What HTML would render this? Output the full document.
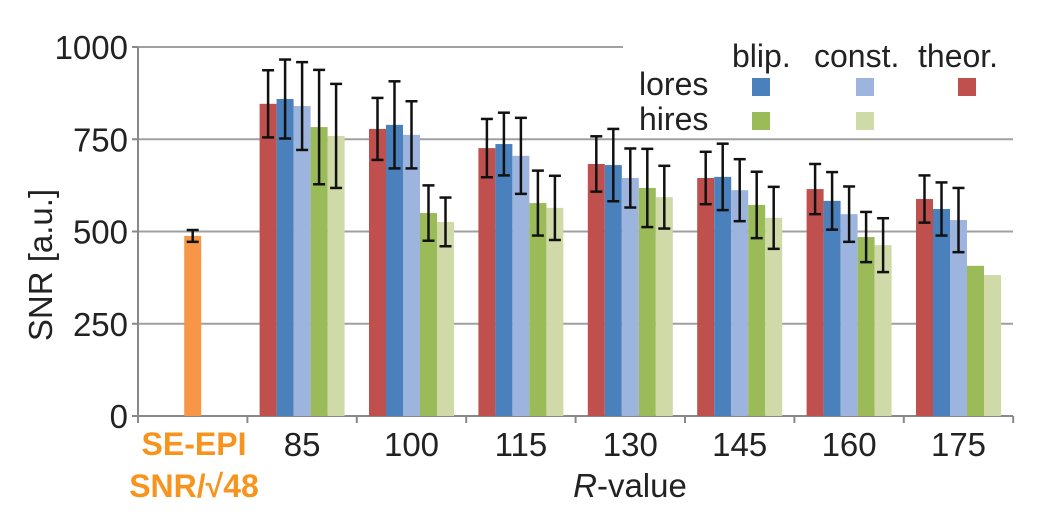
<!DOCTYPE html>
<html><head><meta charset="utf-8"><style>
html,body{margin:0;padding:0;background:#fff;}
svg{display:block;font-family:"Liberation Sans",sans-serif;}
</style></head><body>
<svg id="chart" width="1042" height="523"></svg>
<script>
const categories=["85","100","115","130","145","160","175"];
const seriesNames=["theor","blip-lores","const-lores","blip-hires","const-hires"];
const theor=[846,778,726,683,645,615,588];
const blipLores=[859,789,737,680,648,583,561];
const constLores=[840,762,705,645,612,547,531];
const blipHires=[783,550,577,618,572,485,407];
const constHires=[759,526,564,593,537,463,382];
const errTheor=[91,84,79,75,71,68,64];
const errBlipLores=[107,118,85,98,90,78,72];
const errConstLores=[119,91,103,80,84,75,87];
const errBlipHires=[155,75,88,106,90,68,0];
const errConstHires=[141,66,87,85,84,73,0];
const seEpiValue=[488];
const seEpiErr=[16];
const yTicks=[0,250,500,750,1000];

const NS="http://www.w3.org/2000/svg";
const svg=document.getElementById("chart");
function mk(t,a){const e=document.createElementNS(NS,t);for(const k in a)e.setAttribute(k,a[k]);svg.appendChild(e);return e;}
const x0=138,catW=109.4,y0=416,pxPer=0.369,barW=17;
const y=v=>y0-v*pxPer;
const catX=i=>x0+catW*i;
yTicks.forEach((t,i)=>{
  if(t>0){const g=mk("line",{x1:x0,x2:t===1000?623:1013,y1:y(t),y2:y(t),stroke:"#a0a0a0","stroke-width":2});
  
  }
  const tk=mk("line",{x1:132,x2:x0,y1:y(t),y2:y(t),stroke:"#888","stroke-width":2});
  
  
  const tl=mk("text",{x:128,y:y(t)+12,"text-anchor":"end","font-size":33,fill:"#222"});tl.textContent=t;
  
  
});
const ax=mk("line",{x1:132,x2:1013,y1:y0,y2:y0,stroke:"#888","stroke-width":2});


const yax=mk("line",{x1:x0,x2:x0,y1:y(1000),y2:y0,stroke:"#888","stroke-width":2});


for(let i=0;i<=8;i++){const tk=mk("line",{x1:catX(i),x2:catX(i),y1:y0,y2:y0+7,stroke:"#888","stroke-width":2});
  
  }
const colors=["#c0504d","#4a81bd","#9db5de","#9bbb59","#d0d9a8"];
const vals=[theor,blipLores,constLores,blipHires,constHires];
const errs=[errTheor,errBlipLores,errConstLores,errBlipHires,errConstHires];
function errBar(cx,v,e){
  if(!e)return;
  const g=[mk("line",{x1:cx,x2:cx,y1:y(v+e),y2:y(v-e),stroke:"#111","stroke-width":2.5}),
  mk("line",{x1:cx-6,x2:cx+6,y1:y(v+e),y2:y(v+e),stroke:"#111","stroke-width":2.5}),
  mk("line",{x1:cx-6,x2:cx+6,y1:y(v-e),y2:y(v-e),stroke:"#111","stroke-width":2.5})];
  g.forEach(l=>{});
}
const ob=mk("rect",{x:catX(0)+catW/2-barW/2,y:y(seEpiValue[0]),width:barW,height:seEpiValue[0]*pxPer,fill:"#f79646"});


errBar(catX(0)+catW/2,seEpiValue[0],seEpiErr[0]);
categories.forEach((c,i)=>{
  const gx=catX(i+1)+catW/2-2.5*barW;
  vals.forEach((s,j)=>{
    const r=mk("rect",{x:gx+j*barW,y:y(s[i]),width:barW,height:s[i]*pxPer,fill:colors[j]});
    
    
  });
  vals.forEach((s,j)=>errBar(gx+j*barW+barW/2,s[i],errs[j][i]));
  const t=mk("text",{x:catX(i+1)+catW/2,y:456,"text-anchor":"middle","font-size":33,fill:"#222"});t.textContent=c;
  
  
});
</script>
<svg style="position:absolute;left:0;top:0" width="1042" height="523">
<text x="52" y="265" transform="rotate(-90 52 265)" text-anchor="middle" font-size="33" fill="#222" font-family="Liberation Sans,sans-serif">SNR [a.u.]</text>
<text x="630" y="497" text-anchor="middle" font-size="33" fill="#222" font-family="Liberation Sans,sans-serif"><tspan font-style="italic">R</tspan>-value</text>
<text x="194" y="455" text-anchor="middle" font-size="32" font-weight="bold" fill="#f7941d" font-family="Liberation Sans,sans-serif">SE-EPI</text>
<text x="194" y="497" text-anchor="middle" font-size="32" font-weight="bold" fill="#f7941d" font-family="Liberation Sans,sans-serif">SNR/√48</text>
<g font-family="Liberation Sans,sans-serif" font-size="32" fill="#222">
<text x="732" y="67">blip.</text>
<text x="814" y="67">const.</text>
<text x="918" y="67">theor.</text>
<text x="639" y="95">lores</text>
<text x="639" y="130">hires</text>
<rect x="752" y="78" width="18" height="18" fill="#4a81bd"/>
<rect x="856" y="78" width="18" height="18" fill="#9db5de"/>
<rect x="958" y="78" width="18" height="18" fill="#c0504d"/>
<rect x="752" y="112" width="18" height="18" fill="#9bbb59"/>
<rect x="856" y="112" width="18" height="18" fill="#d0d9a8"/>
</g>
</svg>
</body></html>
